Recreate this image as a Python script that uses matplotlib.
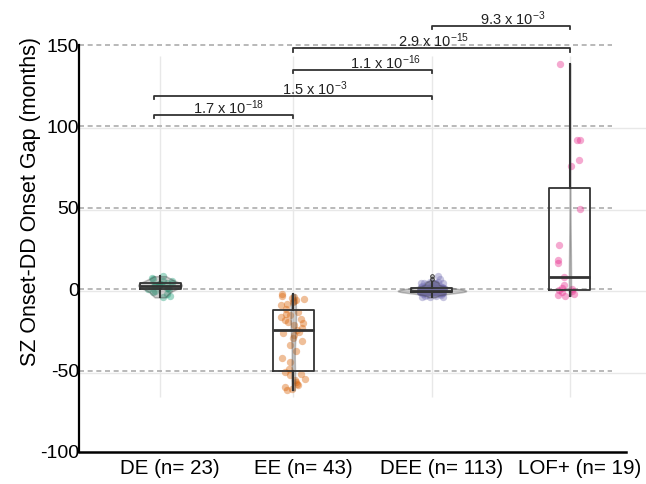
import matplotlib
matplotlib.use('Agg')
import matplotlib.pyplot as plt
from matplotlib import cbook
import numpy as np

plt.rcParams['font.family'] = ['Liberation Sans', 'DejaVu Sans']
plt.rcParams['mathtext.fontset'] = 'custom'
plt.rcParams['mathtext.rm'] = 'Liberation Sans'
plt.rcParams['mathtext.it'] = 'Liberation Sans:italic'
plt.rcParams['mathtext.bf'] = 'Liberation Sans:bold'

# categories
groups = ['DE', 'EE', 'DEE', 'LOF+']
tick_labels = ['DE (n= 23)', 'EE (n= 43)', 'DEE (n= 113)', 'LOF+ (n= 19)']
colors = ['#1b9e77', '#d95f02', '#7570b3', '#e7298a']

# SZ onset - DD onset gap (months)
de_gap = [-5, -4, -3, -2, -1, 0, 0, 1, 1, 2, 2, 2, 2, 3, 3, 3, 4, 4, 5, 5, 6, 7, 8]
ee_gap = [-3, -4, -5, -5.5, -6, -6.5, -7, -8, -9, -10, -12,
          -14, -15, -16, -17, -18, -19, -20, -21, -22, -24, -25,
          -26, -27, -28, -30, -32, -34, -38, -42, -45, -49,
          -51, -52, -53, -55, -56, -57, -58, -59, -60, -61, -62]
dee_gap = ([-5, -5, -4.5, -4, -4, -3.5, -3.5, -3, -3, -3]
           + [-2.5] * 6 + [-2] * 13 + [-1.5] * 11 + [-1] * 18
           + [-0.5] * 10 + [0] * 10 + [0.5] * 8
           + [1] * 6 + [1.5] * 4 + [2] * 4 + [3] * 3 + [4] * 3
           + [4, 4, 4, 4.2, 4.2, 6.5, 8])
lof_gap = [138.6, 91.7, 91.7, 79.4, 75.4, 49, 27, 18, 16.4, 7.2,
           2.5, 1, 0.4, -0.4, -1, -2, -3, -3.5, -4]
all_gaps = [de_gap, ee_gap, dee_gap, lof_gap]

# relative violin widths (scaled by count / density)
violin_widths = [0.32, 0.04, 0.5, 0.015]

# pairwise p-values
pairs = [(0, 1), (0, 2), (1, 2), (1, 3), (2, 3)]
bracket_y = [107, 118.7, 134.7, 148, 161.7]
p_mant = ['1.7', '1.5', '1.1', '2.9', '9.3']
p_exp = ['-18', '-3', '-16', '-15', '-3']
label_x = [0.5, 1.13, 1.65, 2.0, 2.58]

fig = plt.figure(figsize=(6.46, 4.84), dpi=100)
ax = fig.add_axes([79 / 646, 32 / 484, 547 / 646, 407 / 484])
pos = np.array([0, 0.975, 1.99, 3.0])

ax.set_xlim(-0.593, 3.41)
ax.set_ylim(-100, 150)

# faint inner grid
ax.vlines(pos, -66, 143, color='#e8e8e8', lw=1, zorder=0)
ax.hlines([98.8, 48.5, -1, -51.5], -0.593, 3.56, color='#e8e8e8', lw=1,
          zorder=0, clip_on=False)
# dashed reference lines
ax.hlines([150, 100, 50, 0, -50], -0.593, 3.31, color='#adadad', lw=1.2,
          linestyles=(0, (3, 2.2)), zorder=1, clip_on=False)

# jittered points
rng = np.random.default_rng(7)
for i, vals in enumerate(all_gaps):
    xs = pos[i] + rng.uniform(-0.09, 0.09, len(vals))
    ax.scatter(xs, vals, s=28, color=colors[i], alpha=0.4, lw=0, zorder=2)

# violins
for i, vals in enumerate(all_gaps):
    vp = ax.violinplot([vals], positions=[pos[i]], widths=violin_widths[i],
                       showextrema=False)
    for b in vp['bodies']:
        b.set_facecolor((0.40, 0.40, 0.40, 0.55))
        b.set_edgecolor('#333333')
        b.set_linewidth(1.1)
        b.set_zorder(3)

# boxes
stats = [cbook.boxplot_stats(v, whis=1.5)[0] for v in all_gaps]
ax.bxp(stats, positions=pos, widths=0.3, showcaps=False, patch_artist=False,
       boxprops=dict(color='#333333', lw=1.3),
       medianprops=dict(color='#333333', lw=2),
       whiskerprops=dict(color='#333333', lw=1.5),
       flierprops=dict(marker='o', markersize=2.6, markerfacecolor='none',
                       markeredgecolor='#333333', markeredgewidth=0.7),
       zorder=4)

# significance brackets
tick = 2.0
for (a, b), y, m, e, lx in zip(pairs, bracket_y, p_mant, p_exp, label_x):
    x1 = pos[a] - 0.045 if a == 0 else pos[a]
    x2 = pos[b]
    ax.plot([x1, x1, x2, x2], [y - tick, y, y, y - tick], color='#333333',
            lw=1.3, clip_on=False, zorder=5)
    ax.text(lx, y + 0.6, m + ' x 10$^{' + e + '}$', ha='center',
            va='baseline', fontsize=10.5, color='#222222', zorder=6)

# axes styling
for s in ['top', 'right']:
    ax.spines[s].set_visible(False)
ax.spines['left'].set_linewidth(1.6)
ax.spines['bottom'].set_linewidth(1.8)
ax.set_yticks([-100, -50, 0, 50, 100, 150])
ax.set_yticklabels(['-100', '-50', '0', '50', '100', '150'], fontsize=14)
ax.set_xticks(pos + 0.07)
ax.set_xticklabels(tick_labels, fontsize=14.8)
ax.tick_params(axis='y', length=0, pad=0)
ax.tick_params(axis='x', length=0, pad=5)

fig.text(31 / 646, 1 - 201 / 484, 'SZ Onset-DD Onset Gap (months)',
         rotation=90, ha='center', va='center', fontsize=15.5)

fig.savefig('out.png', dpi=100)
